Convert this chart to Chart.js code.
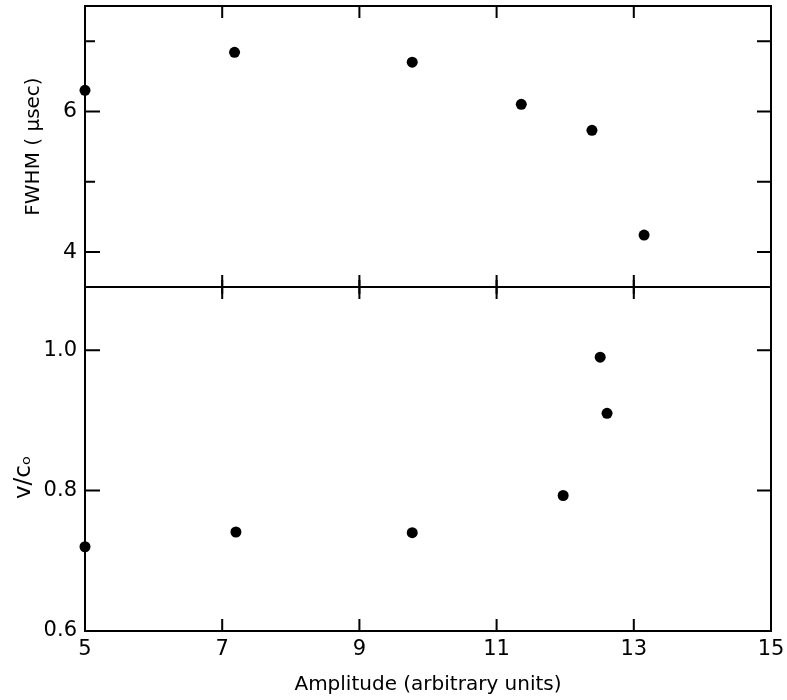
<!DOCTYPE html>
<html>
<head>
<meta charset="utf-8">
<script src="https://cdn.jsdelivr.net/npm/chart.js@4.4.0/dist/chart.umd.min.js"></script>
<style>
body { margin: 0; background: #fff; }
#wrap { position: relative; width: 787px; height: 700px; }
canvas { position: absolute; left: 0; }
</style>
</head>
<body>
<div id="wrap">
  <canvas id="top-chart" width="787" height="300" style="top:0px"></canvas>
  <canvas id="bottom-chart" width="787" height="420" style="top:280px"></canvas>
</div>
<script>
// data
const amplitudeFwhm = [5.0, 7.18, 9.77, 11.36, 12.39, 13.15];
const fwhm = [6.30, 6.84, 6.70, 6.10, 5.73, 4.24];
const amplitudeVel = [5.0, 7.2, 9.77, 11.97, 12.51, 12.61];
const velocity = [0.72, 0.741, 0.74, 0.793, 0.99, 0.91];

const xTicks = [5, 7, 9, 11, 13, 15];
const fwhmTicks = [4, 6];
const fwhmMinor = [5, 7];
const velTicks = [0.6, 0.8, 1.0];
const velInner = [0.8, 1.0];

const font = 'DejaVu Sans';

// frame + inward ticks like the old plot
const frameTicks = {
  id: 'frameTicks',
  afterDraw(chart, args, opts) {
    const { ctx, chartArea: a } = chart;
    const x = chart.scales.x, y = chart.scales.y;
    ctx.save();
    ctx.strokeStyle = '#000';
    ctx.lineWidth = 2;
    ctx.strokeRect(a.left, a.top, a.right - a.left, a.bottom - a.top);
    ctx.beginPath();
    xTicks.slice(1, -1).forEach(v => {
      const px = x.getPixelForValue(v);
      ctx.moveTo(px, a.top - opts.topOut);
      ctx.lineTo(px, a.top + 12);
      ctx.moveTo(px, a.bottom + opts.bottomOut);
      ctx.lineTo(px, a.bottom - 12);
    });
    opts.major.forEach(v => {
      const py = y.getPixelForValue(v);
      ctx.moveTo(a.left, py); ctx.lineTo(a.left + 15, py);
      ctx.moveTo(a.right, py); ctx.lineTo(a.right - 14, py);
    });
    opts.minor.forEach(v => {
      const py = y.getPixelForValue(v);
      ctx.moveTo(a.left, py); ctx.lineTo(a.left + 10, py);
      ctx.moveTo(a.right, py); ctx.lineTo(a.right - 14, py);
    });
    ctx.stroke();
    ctx.restore();
  }
};

function dots(xs, ys) {
  return xs.map((v, i) => ({ x: v, y: ys[i] }));
}

// keep chart area where I put it, no extra room for the end labels
function fixX(h) {
  return s => { s.height = h; s.paddingLeft = 0; s.paddingRight = 0; };
}
function fixY(s) {
  s.width = 85; s.paddingTop = 0; s.paddingBottom = 0;
}

const topChart = new Chart(document.getElementById('top-chart'), {
  type: 'scatter',
  data: {
    datasets: [{
      data: dots(amplitudeFwhm, fwhm),
      backgroundColor: '#000',
      borderWidth: 0,
      pointRadius: 5.5,
      clip: false
    }]
  },
  plugins: [frameTicks],
  options: {
    responsive: false,
    animation: false,
    devicePixelRatio: 1,
    layout: { padding: { top: 6, right: 16, left: 0, bottom: 0 } },
    plugins: {
      legend: { display: false },
      tooltip: { enabled: false },
      frameTicks: { major: fwhmTicks, minor: fwhmMinor, topOut: 0, bottomOut: 7 }
    },
    scales: {
      x: {
        type: 'linear', min: 5, max: 15,
        afterBuildTicks: s => { s.ticks = xTicks.map(v => ({ value: v })); },
        afterFit: fixX(13),
        ticks: { display: false },
        grid: { display: false, drawTicks: false },
        border: { display: false }
      },
      y: {
        min: 3.5, max: 7.5,
        afterBuildTicks: s => { s.ticks = fwhmTicks.map(v => ({ value: v })); },
        afterFit: fixY,
        ticks: { color: '#000', padding: 8, font: { family: font, size: 22 } },
        grid: { display: false, drawTicks: false },
        border: { display: false },
        title: {
          display: true, text: 'FWHM ( μsec)', color: '#000',
          font: { family: font, size: 20 },
          padding: { top: 22, bottom: 0 }
        }
      }
    }
  }
});

const bottomChart = new Chart(document.getElementById('bottom-chart'), {
  type: 'scatter',
  data: {
    datasets: [{
      data: dots(amplitudeVel, velocity),
      backgroundColor: '#000',
      borderWidth: 0,
      pointRadius: 5.5,
      clip: false
    }]
  },
  plugins: [frameTicks],
  options: {
    responsive: false,
    animation: false,
    devicePixelRatio: 1,
    layout: { padding: { top: 7, right: 16, left: 0, bottom: 0 } },
    plugins: {
      legend: { display: false },
      tooltip: { enabled: false },
      frameTicks: { major: velInner, minor: [], topOut: 7, bottomOut: 0 }
    },
    scales: {
      x: {
        type: 'linear', min: 5, max: 15,
        afterBuildTicks: s => { s.ticks = xTicks.map(v => ({ value: v })); },
        afterFit: fixX(69),
        ticks: { color: '#000', padding: 6, font: { family: font, size: 21 } },
        grid: { display: false, drawTicks: false },
        border: { display: false },
        title: {
          display: true, text: 'Amplitude (arbitrary units)', color: '#000',
          font: { family: font, size: 20 },
          padding: { top: 0, bottom: 3 }
        }
      },
      y: {
        min: 0.6, max: 1.09,
        afterBuildTicks: s => { s.ticks = velTicks.map(v => ({ value: v })); },
        afterFit: fixY,
        ticks: {
          color: '#000', padding: 8, font: { family: font, size: 21 },
          callback: v => v.toFixed(1)
        },
        grid: { display: false, drawTicks: false },
        border: { display: false },
        // trailing spaces nudge the label down a bit, like the original
        title: {
          display: true, text: 'v/cₒ     ', color: '#000',
          font: { family: font, size: 23 },
          padding: { top: 10, bottom: 0 }
        }
      }
    }
  }
});
</script>
</body>
</html>
